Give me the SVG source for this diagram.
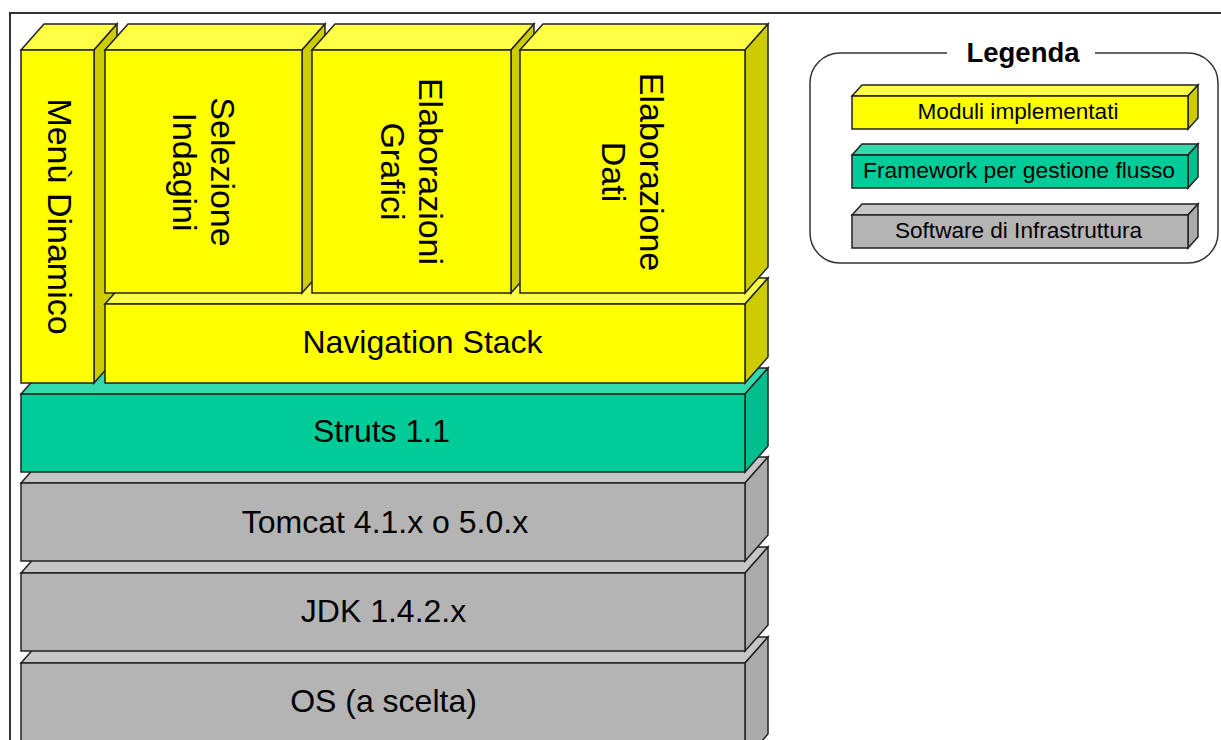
<svg xmlns="http://www.w3.org/2000/svg" width="1221" height="740" viewBox="0 0 1221 740">
<style>
  .st{stroke:#222;stroke-width:1.5;stroke-linejoin:miter}
  .yf{fill:#FFFF00}.yt{fill:#FFFF45}.ys{fill:#CCCC00}
  .tf{fill:#00CC99}.tt{fill:#33DAAB}.ts{fill:#00BE8E}
  .gf{fill:#B4B4B4}.gt{fill:#C6C6C6}.gs{fill:#ABABAB}
  .lbl{font-family:"Liberation Sans",Arial,sans-serif;fill:#000;text-anchor:middle}
  .h{font-size:32px}
  .v{font-size:34px}
  .lg{font-size:22px}
  .ttl{font-size:27.5px;font-weight:bold}
</style>
<rect width="1221" height="740" fill="#FFFFFF"/>
<path d="M10,740 V13 H1221" fill="none" stroke="#333" stroke-width="2"/>

<g id="os">
  <polygon class="gt st" points="21,663 44,637 768,637 745,663"/>
  <polygon class="gs st" points="745,663 768,637 768,734 745,760"/>
  <rect class="gf st" x="21" y="663" width="724" height="97"/>
  <text class="lbl h" x="383.5" y="712">OS (a scelta)</text>
</g>
<g id="jdk">
  <polygon class="gt st" points="21,573 44,547 768,547 745,573"/>
  <polygon class="gs st" points="745,573 768,547 768,625 745,651"/>
  <rect class="gf st" x="21" y="573" width="724" height="78"/>
  <text class="lbl h" x="383.5" y="622">JDK 1.4.2.x</text>
</g>
<g id="tomcat">
  <polygon class="gt st" points="21,483 44,457 768,457 745,483"/>
  <polygon class="gs st" points="745,483 768,457 768,535 745,561"/>
  <rect class="gf st" x="21" y="483" width="724" height="78"/>
  <text class="lbl h" x="385" y="533">Tomcat 4.1.x o 5.0.x</text>
</g>
<g id="struts">
  <polygon class="tt st" points="21,394 44,368 768,368 745,394"/>
  <polygon class="ts st" points="745,394 768,368 768,446 745,472"/>
  <rect class="tf st" x="21" y="394" width="724" height="78"/>
  <text class="lbl h" x="381.5" y="442">Struts 1.1</text>
</g>
<g id="menu">
  <polygon class="yt st" points="21,50 44,24 117,24 94,50"/>
  <polygon class="ys st" points="94,50 117,24 117,357 94,383"/>
  <rect class="yf st" x="21" y="50" width="73" height="333"/>
  <text class="lbl v" transform="translate(57.5,216.5) rotate(90)" x="0" y="10">Menù Dinamico</text>
</g>
<g id="navigation">
  <polygon class="yt st" points="105,304 128,278 768,278 745,304"/>
  <polygon class="ys st" points="745,304 768,278 768,357 745,383"/>
  <rect class="yf st" x="105" y="304" width="640" height="79"/>
  <text class="lbl h" x="422.5" y="353">Navigation Stack</text>
</g>
<g id="selezione">
  <polygon class="yt st" points="105,50 128,24 325,24 302,50"/>
  <polygon class="ys st" points="302,50 325,24 325,267 302,293"/>
  <rect class="yf st" x="105" y="50" width="197" height="243"/>
  <text class="lbl v" transform="translate(203.5,172) rotate(90)"><tspan x="0" y="-7">Selezione</tspan><tspan x="0" y="31">Indagini</tspan></text>
</g>
<g id="grafici">
  <polygon class="yt st" points="312,50 335,24 534,24 511,50"/>
  <polygon class="ys st" points="511,50 534,24 534,267 511,293"/>
  <rect class="yf st" x="312" y="50" width="199" height="243"/>
  <text class="lbl v" transform="translate(411.5,171.5) rotate(90)"><tspan x="0" y="-7">Elaborazioni</tspan><tspan x="0" y="31">Grafici</tspan></text>
</g>
<g id="dati">
  <polygon class="yt st" points="520,50 543,24 768,24 745,50"/>
  <polygon class="ys st" points="745,50 768,24 768,267 745,293"/>
  <rect class="yf st" x="520" y="50" width="225" height="243"/>
  <text class="lbl v" transform="translate(632.5,172) rotate(90)"><tspan x="0" y="-7">Elaborazione</tspan><tspan x="0" y="31">Dati</tspan></text>
</g>

<g id="legenda">
  <rect x="810" y="53" width="408" height="210" rx="30" ry="30" fill="#FFFFFF" stroke="#333" stroke-width="1.5"/>
  <rect x="947" y="45" width="148" height="16" fill="#FFFFFF"/>
  <text class="lbl ttl" x="1023" y="62">Legenda</text>
  <g id="leg-moduli">
    <polygon class="yt st" points="852,96 862,85 1198,85 1188,96"/>
    <polygon class="ys st" points="1188,96 1198,85 1198,118 1188,129"/>
    <rect class="yf st" x="852" y="96" width="336" height="33"/>
    <text class="lbl lg" x="1018" y="119" textLength="201" lengthAdjust="spacingAndGlyphs">Moduli implementati</text>
  </g>
  <g id="leg-framework">
    <polygon class="tt st" points="852,155 862,144 1198,144 1188,155"/>
    <polygon class="ts st" points="1188,155 1198,144 1198,177 1188,188"/>
    <rect class="tf st" x="852" y="155" width="336" height="33"/>
    <text class="lbl lg" x="1019" y="178" textLength="312" lengthAdjust="spacingAndGlyphs">Framework per gestione flusso</text>
  </g>
  <g id="leg-software">
    <polygon class="gt st" points="852,215 862,204 1198,204 1188,215"/>
    <polygon class="gs st" points="1188,215 1198,204 1198,237 1188,248"/>
    <rect class="gf st" x="852" y="215" width="336" height="33"/>
    <text class="lbl lg" x="1018.5" y="238" textLength="247" lengthAdjust="spacingAndGlyphs">Software di Infrastruttura</text>
  </g>
</g>
</svg>
